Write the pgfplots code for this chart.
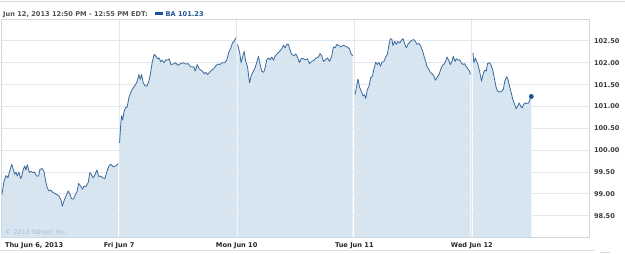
\documentclass[border=0pt]{standalone}
\usepackage{pgfplots}
\usepackage{pgfplotstable}
\pgfplotsset{compat=1.18}
\usepackage{fontspec}
\setmainfont{DejaVu Sans}
\definecolor{linec}{RGB}{58,105,155}
\definecolor{fillc}{RGB}{214,229,240}
\definecolor{dotc}{RGB}{30,84,150}
\definecolor{gridc}{RGB}{224,231,238}
\definecolor{borderc}{RGB}{208,216,224}
\definecolor{hdrc}{RGB}{80,80,80}
\definecolor{labc}{RGB}{60,60,60}
\definecolor{wmc}{RGB}{170,190,208}
\definecolor{legc}{RGB}{30,84,150}

\pgfplotstableread{
x y
0.004 98.99
0.021 99.29
0.038 99.42
0.055 99.37
0.066 99.49
0.087 99.68
0.100 99.56
0.112 99.45
0.123 99.50
0.134 99.41
0.149 99.50
0.163 99.35
0.172 99.41
0.185 99.56
0.197 99.64
0.208 99.55
0.219 99.67
0.236 99.49
0.251 99.52
0.265 99.49
0.279 99.50
0.299 99.41
0.316 99.41
0.327 99.56
0.344 99.58
0.361 99.52
0.376 99.29
0.389 99.14
0.404 99.07
0.418 99.09
0.435 99.04
0.455 99.01
0.474 98.98
0.491 98.95
0.506 98.86
0.517 98.72
0.531 98.84
0.548 98.95
0.568 99.07
0.582 98.99
0.596 98.89
0.610 98.88
0.624 98.95
0.644 99.07
0.656 99.24
0.673 99.18
0.690 99.11
0.701 99.18
0.718 99.17
0.737 99.26
0.752 99.49
0.763 99.45
0.780 99.37
0.797 99.45
0.811 99.55
0.826 99.40
0.843 99.41
0.860 99.37
0.879 99.35
0.894 99.49
0.913 99.64
0.930 99.68
0.950 99.62
0.970 99.64
0.992 99.69
}\thu

\pgfplotstableread{
x y
1.004 100.17
1.015 100.63
1.021 100.79
1.030 100.69
1.043 100.89
1.055 100.97
1.069 100.99
1.083 101.20
1.098 101.31
1.111 101.39
1.126 101.45
1.140 101.50
1.154 101.58
1.168 101.73
1.179 101.62
1.191 101.73
1.205 101.54
1.219 101.48
1.236 101.46
1.253 101.58
1.268 101.77
1.281 102.00
1.298 102.19
1.313 102.15
1.327 102.09
1.341 102.11
1.353 102.02
1.366 102.06
1.381 102.00
1.398 102.07
1.412 102.06
1.426 102.09
1.440 101.96
1.460 101.97
1.480 102.00
1.502 101.94
1.523 101.98
1.545 102.00
1.565 101.97
1.587 101.98
1.604 101.92
1.621 101.90
1.636 101.91
1.647 101.81
1.664 101.96
1.681 101.86
1.695 101.83
1.709 101.81
1.723 101.75
1.737 101.78
1.752 101.73
1.766 101.77
1.786 101.83
1.803 101.86
1.820 101.92
1.837 101.97
1.856 101.96
1.876 102.00
1.899 102.00
1.916 102.07
1.933 102.24
1.950 102.34
1.964 102.45
1.978 102.49
1.992 102.57
}\fri

\pgfplotstableread{
x y
2.007 102.42
2.026 102.23
2.037 102.00
2.052 102.15
2.063 102.26
2.077 102.03
2.092 101.91
2.109 101.54
2.122 101.69
2.137 101.78
2.156 101.88
2.173 102.03
2.185 102.15
2.199 101.96
2.213 101.81
2.230 101.78
2.241 101.88
2.256 102.07
2.270 102.11
2.284 102.07
2.298 102.13
2.313 102.06
2.326 102.15
2.347 102.21
2.364 102.26
2.383 102.32
2.398 102.40
2.411 102.34
2.426 102.42
2.440 102.42
2.454 102.29
2.468 102.19
2.485 102.16
2.503 102.20
2.520 102.11
2.534 102.00
2.547 102.09
2.562 102.10
2.581 102.07
2.602 102.09
2.618 101.98
2.638 102.03
2.658 102.06
2.675 102.11
2.695 102.13
2.709 102.21
2.723 102.16
2.738 102.03
2.755 102.07
2.772 102.11
2.789 102.03
2.808 102.15
2.822 102.36
2.836 102.34
2.853 102.42
2.870 102.39
2.887 102.36
2.904 102.40
2.921 102.38
2.941 102.36
2.958 102.32
2.972 102.21
2.986 102.16
}\mon

\pgfplotstableread{
x y
3.006 101.27
3.020 101.46
3.031 101.63
3.046 101.43
3.060 101.35
3.074 101.24
3.086 101.27
3.097 101.18
3.111 101.39
3.125 101.46
3.139 101.66
3.154 101.69
3.167 101.86
3.182 102.01
3.196 101.96
3.210 102.01
3.222 101.92
3.235 102.01
3.252 102.03
3.267 102.13
3.281 102.19
3.295 102.42
3.307 102.55
3.320 102.53
3.329 102.39
3.343 102.49
3.358 102.42
3.371 102.49
3.386 102.45
3.400 102.51
3.414 102.55
3.428 102.44
3.443 102.34
3.456 102.42
3.471 102.47
3.488 102.51
3.505 102.53
3.519 102.49
3.533 102.42
3.550 102.44
3.564 102.39
3.578 102.29
3.592 102.16
3.607 102.03
3.618 101.91
3.632 101.86
3.647 101.78
3.660 101.75
3.675 101.71
3.689 101.60
3.703 101.66
3.720 101.73
3.734 101.84
3.749 101.94
3.762 101.96
3.777 102.03
3.788 102.13
3.802 102.06
3.817 101.96
3.830 102.03
3.842 102.15
3.856 102.03
3.867 102.09
3.881 102.06
3.895 102.07
3.910 102.00
3.923 101.96
3.938 101.98
3.952 101.91
3.966 101.86
3.980 101.81
3.986 101.73
}\tue

\pgfplotstableread{
x y
4.009 102.23
4.017 102.00
4.029 102.11
4.040 102.03
4.054 101.94
4.068 101.77
4.082 101.58
4.093 101.71
4.108 101.83
4.122 101.81
4.133 101.98
4.148 102.00
4.161 101.96
4.176 101.84
4.190 101.66
4.204 101.46
4.218 101.35
4.235 101.33
4.252 101.35
4.267 101.39
4.280 101.58
4.295 101.68
4.306 101.63
4.320 101.46
4.335 101.31
4.348 101.16
4.363 101.05
4.377 100.95
4.391 101.02
4.403 101.08
4.414 101.01
4.428 100.97
4.439 101.05
4.454 101.08
4.467 101.07
4.482 101.08
4.496 101.18
4.505 101.23
}\wed

\begin{document}
\begin{tikzpicture}
\draw[color=borderc, line width=0.8bp] (0,253bp) -- (625bp,253bp);
\draw[color=borderc!80, line width=0.8bp] (0,3.3bp) -- (595bp,3.3bp);
\draw[color=borderc, line width=0.8bp] (600bp,2bp) -- (610bp,2bp);
\begin{axis}[
  set layers,
  at={(1.5bp,16.3bp)}, anchor=south west,
  scale only axis, width=588bp, height=218.7bp,
  xmin=0, xmax=5, ymin=98, ymax=103,
  xtick={1,2,3,4},
  xticklabels={Fri Jun 7,Mon Jun 10,Tue Jun 11,Wed Jun 12},
  extra x ticks={0},
  extra x tick labels={Thu Jun 6{,} 2013},
  extra x tick style={xticklabel style={anchor=north west, xshift=0bp}},
  xticklabel style={yshift=-1.5bp},
  ytick={98.5,99,99.5,100,100.5,101,101.5,102,102.5},
  yticklabel pos=right,
  yticklabel style={anchor=west, xshift=1bp, text=labc,
    /pgf/number format/.cd, fixed, fixed zerofill, precision=2, assume math mode=true},
  tick label style={font=\fontsize{6.6bp}{8bp}\selectfont\bfseries},
  xticklabel style={text=black!85},
  major tick length=0pt,
  grid=major,
  major grid style={color=gridc, line width=1bp},
  axis line style={color=borderc, line width=0.8bp},
]
\addplot[fill=fillc, draw=none, on layer=axis background] table {\thu} \closedcycle;
\addplot[fill=fillc, draw=none, on layer=axis background] table {\fri} \closedcycle;
\addplot[fill=fillc, draw=none, on layer=axis background] table {\mon} \closedcycle;
\addplot[fill=fillc, draw=none, on layer=axis background] table {\tue} \closedcycle;
\addplot[fill=fillc, draw=none, on layer=axis background] table {\wed} \closedcycle;
\addplot[linec, line width=0.8bp, line join=round] table {\thu};
\addplot[linec, line width=0.8bp, line join=round] table {\fri};
\addplot[linec, line width=0.8bp, line join=round] table {\mon};
\addplot[linec, line width=0.8bp, line join=round] table {\tue};
\addplot[linec, line width=0.8bp, line join=round] table {\wed};
\addplot[only marks, mark=*, mark size=2.2bp, color=dotc] coordinates {(4.505,101.23)};
\end{axis}
\node[anchor=base west, inner sep=0, text=hdrc, font=\fontsize{6.6bp}{8bp}\selectfont\bfseries] at (3bp,237.8bp) {Jun 12, 2013 12:50 PM - 12:55 PM EDT:};
\fill[legc] (155.3bp,239.4bp) rectangle (163.3bp,241.8bp);
\node[anchor=base west, inner sep=0, text=legc, font=\fontsize{6.6bp}{8bp}\selectfont\bfseries] at (165.5bp,237.8bp) {BA 101.23};
\node[anchor=base west, inner sep=0, text=wmc, font=\fontsize{6.4bp}{7bp}\selectfont] at (5bp,19.6bp) {© 2013 Yahoo! Inc.};
\pgfresetboundingbox
\path (0,0) rectangle (625bp,254bp);
\end{tikzpicture}
\end{document}
